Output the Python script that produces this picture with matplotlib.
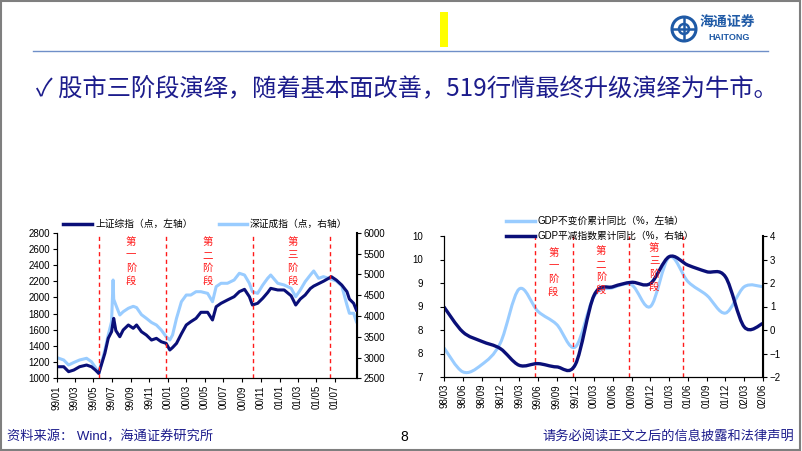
import numpy as np
import pandas as pd
import matplotlib
matplotlib.use('Agg')
import matplotlib.pyplot as plt
import matplotlib.dates as mdates
from matplotlib.path import Path
from matplotlib.patches import PathPatch, Ellipse, Rectangle
from matplotlib.lines import Line2D

plt.rcParams['font.family'] = ['Liberation Sans', 'Noto Sans CJK SC', 'DejaVu Sans']

W, H = 802, 451

idx_dates = ['1999-01-08', '1999-01-24', '1999-02-09', '1999-02-26', '1999-03-17', '1999-04-09',
             '1999-04-25', '1999-05-08', '1999-05-19', '1999-06-08', '1999-06-19', '1999-06-30',
             '1999-07-05', '1999-07-07', '1999-07-14', '1999-07-27', '1999-08-07', '1999-08-24',
             '1999-09-09', '1999-09-20', '1999-10-06', '1999-10-22', '1999-11-08', '1999-11-24',
             '1999-12-10', '1999-12-26', '2000-01-07', '2000-01-16', '2000-01-29', '2000-02-14',
             '2000-03-01', '2000-03-16', '2000-04-02', '2000-04-18', '2000-05-10', '2000-05-26',
             '2000-06-07', '2000-06-23', '2000-07-14', '2000-08-05', '2000-08-22', '2000-09-08',
             '2000-09-24', '2000-10-04', '2000-10-21', '2000-11-07', '2000-11-23', '2000-12-03',
             '2000-12-26', '2001-01-16', '2001-02-08', '2001-02-23', '2001-03-10', '2001-03-26',
             '2001-04-12', '2001-04-23', '2001-05-09', '2001-05-25', '2001-06-11', '2001-06-20',
             '2001-07-06', '2001-07-24', '2001-08-10', '2001-08-18', '2001-09-01', '2001-09-10']
sh_index = [1143, 1143, 1082, 1102, 1143, 1164, 1143, 1102, 1060, 1309, 1494, 1576,
            1700, 1741, 1590, 1514, 1597, 1659, 1618, 1659, 1576, 1535, 1473, 1494,
            1452, 1432, 1350, 1380, 1432, 1550, 1659, 1700, 1741, 1816, 1816, 1721,
            1885, 1927, 1968, 2009, 2071, 2100, 2009, 1906, 1927, 1990, 2060, 2112,
            2092, 2092, 2020, 1906, 1980, 2030, 2110, 2140, 2170, 2200, 2236, 2256,
            2215, 2153, 2071, 1980, 1927, 1844]
sz_index = [2981, 2940, 2820, 2880, 2940, 2981, 2899, 2760, 2620, 3180, 3541, 3861,
            4863, 4400, 4262, 4022, 4100, 4183, 4230, 4200, 4030, 3942, 3842, 3781,
            3661, 3500, 3421, 3541, 3942, 4341, 4502, 4502, 4582, 4582, 4542, 4341,
            4703, 4784, 4784, 4863, 5024, 4983, 4784, 4582, 4542, 4743, 4904, 4983,
            4784, 4743, 4663, 4462, 4623, 4823, 4983, 5080, 4904, 4943, 4904, 4880,
            4840, 4720, 4262, 4063, 4063, 3861]
stage_dates = ['1999-05-19', '1999-12-24', '2000-10-06', '2001-06-14']
stage_names = ['第一阶段', '第二阶段', '第三阶段']

# right chart: quarterly GDP
quarters = ['98/03', '98/06', '98/09', '98/12', '99/03', '99/06', '99/09', '99/12', '00/03',
            '00/06', '00/09', '00/12', '01/03', '01/06', '01/09', '01/12', '02/03', '02/06']
gdp_real = [7.62, 7.11, 7.26, 7.72, 8.87, 8.40, 8.12, 7.64, 8.72,
            8.90, 8.96, 8.50, 9.55, 9.03, 8.74, 8.36, 8.92, 8.92]
gdp_deflator = [0.98, -0.08, -0.48, -0.79, -1.50, -1.43, -1.57, -1.47, 1.48,
                1.84, 2.03, 1.98, 3.12, 2.76, 2.48, 2.26, 0.13, 0.28]
stage_pos = [4.85, 6.85, 9.85, 12.75]
gdp_ticks = [7, 7.5, 8, 8.5, 9, 9.5, 10]
gdp_labels = ['7', '8', '8', '9', '9', '10', '10']

NAVY = '#0a0f78'
LIGHT = '#99ccff'
RED = '#ff1a1a'
TXT = '#1c1c8c'
LOGO = '#1f5aa6'


def fx(x):
    return x / W


def fy(y):
    return 1 - y / H


def smooth_path(x, y):
    # excel-style smoothed line: catmull-rom through the points
    x = np.asarray(x, float)
    y = np.asarray(y, float)
    px = np.r_[x[0], x, x[-1]]
    py = np.r_[y[0], y, y[-1]]
    verts = [(x[0], y[0])]
    codes = [Path.MOVETO]
    for i in range(1, len(x)):
        c1 = (px[i] + (px[i + 1] - px[i - 1]) / 6, py[i] + (py[i + 1] - py[i - 1]) / 6)
        c2 = (px[i + 1] - (px[i + 2] - px[i]) / 6, py[i + 1] - (py[i + 2] - py[i]) / 6)
        verts += [c1, c2, (px[i + 1], py[i + 1])]
        codes += [Path.CURVE4] * 3
    return Path(verts, codes)


def stage_text(x, y0, name):
    for k, ch in enumerate(name):
        fig.text(fx(x), fy(y0 + k * 13), ch, color=RED, fontsize=7.5, fontweight='light',
                 ha='center', va='center', family=['Noto Sans CJK SC'])


fig = plt.figure(figsize=(W / 100, H / 100), dpi=100)

# ---- header ----
fig.add_artist(Rectangle((0.001, 0.002), 0.997, 0.996, transform=fig.transFigure,
                         fill=False, edgecolor='#7f7f7f', lw=1.5))
fig.add_artist(Line2D([fx(33), fx(768)], [fy(51), fy(51)], transform=fig.transFigure,
                      color='#6f8fc8', lw=1))
fig.add_artist(Rectangle((fx(440), fy(47)), 8 / W, 35 / H, transform=fig.transFigure,
                         color='#ffff00', lw=0))
# logo, roughly
fig.add_artist(Ellipse((fx(684), fy(29)), 24 / W, 24 / H, transform=fig.transFigure,
                       fill=False, edgecolor=LOGO, lw=2.2))
fig.add_artist(Ellipse((fx(684), fy(29)), 10 / W, 10 / H, transform=fig.transFigure,
                       fill=False, edgecolor=LOGO, lw=1.8))
fig.add_artist(Line2D([fx(673), fx(695)], [fy(29), fy(29)], transform=fig.transFigure,
                      color=LOGO, lw=1.8))
fig.add_artist(Line2D([fx(684), fx(684)], [fy(18), fy(40)], transform=fig.transFigure,
                      color=LOGO, lw=1.8))
fig.text(fx(700), fy(23), '海通证券', color=LOGO, fontsize=10, fontweight='bold',
         ha='left', va='center', family=['Noto Sans CJK SC'])
fig.text(fx(729), fy(38), 'HAITONG', color=LOGO, fontsize=6.5, fontweight='bold',
         ha='center', va='center')

fig.text(fx(36), fy(89), '✓ 股市三阶段演绎，随着基本面改善，519行情最终升级演绎为牛市。',
         color=TXT, fontsize=17.5, ha='left', va='center',
         family=['Noto Sans CJK SC', 'DejaVu Sans'])

# ---- left chart ----
ax = fig.add_axes([fx(56.7), fy(378.3), 300.3 / W, 145.6 / H])
ax2 = ax.twinx()
d = pd.to_datetime(idx_dates)
ax2.plot(d, sz_index, color=LIGHT, lw=2.2)
ax.plot(d, sh_index, color=NAVY, lw=2.2)
ax.set_zorder(ax2.get_zorder() + 1)
ax.patch.set_visible(False)
for s in stage_dates:
    ax.axvline(pd.Timestamp(s), color=RED, lw=1, ls=(0, (3, 2.5)))
ax.set_xlim(pd.Timestamp('1999-01-04'), pd.Timestamp('2001-09-12'))
ax.set_ylim(1000, 2800)
ax.set_yticks(np.arange(1000, 2801, 200))
ax2.set_ylim(2500, 6000)
ax2.set_yticks(np.arange(2500, 6001, 500))
ax.set_xticks(pd.date_range('1999-01-01', '2001-07-01', freq='2MS'))
ax.xaxis.set_major_formatter(mdates.DateFormatter('%y/%m'))
for a in (ax, ax2):
    a.spines['top'].set_visible(False)
    a.tick_params(labelsize=7, length=3, width=0.8, pad=2)
ax.tick_params(axis='x', rotation=90)
ax2.spines['right'].set_linewidth(1.5)

fig.add_artist(Line2D([fx(63), fx(92)], [fy(224), fy(224)], transform=fig.transFigure,
                      color=NAVY, lw=2.5))
fig.text(fx(96), fy(224), '上证综指（点，左轴）', fontsize=7, ha='left', va='center')
fig.add_artist(Line2D([fx(219), fx(247)], [fy(224), fy(224)], transform=fig.transFigure,
                      color=LIGHT, lw=2.5))
fig.text(fx(250), fy(224), '深证成指（点，右轴）', fontsize=7, ha='left', va='center')

for x, name in zip([131, 207.7, 292.7], stage_names):
    stage_text(x, 241.7, name)

# ---- right chart ----
bx = fig.add_axes([fx(444), fy(377), 319 / W, 141 / H])
bx2 = bx.twinx()
xq = np.arange(len(quarters))
bx.add_patch(PathPatch(smooth_path(xq, gdp_real), fill=False, edgecolor=LIGHT, lw=2.2,
                       capstyle='round'))
bx2.add_patch(PathPatch(smooth_path(xq, gdp_deflator), fill=False, edgecolor=NAVY, lw=2.4,
                        capstyle='round'))
for p in stage_pos:
    bx.axvline(p, color=RED, lw=1, ls=(0, (3, 2.5)))
bx.set_xlim(0, len(quarters) - 1)
bx.set_xticks(xq)
bx.set_xticklabels(quarters, rotation=90)
bx.set_ylim(7, 10)
bx.set_yticks(gdp_ticks)
bx.set_yticklabels(gdp_labels)
bx2.set_ylim(-2, 4)
bx2.set_yticks(range(-2, 5))
for a in (bx, bx2):
    a.spines['top'].set_visible(False)
    a.tick_params(labelsize=7, length=3, width=0.8, pad=2)
bx2.spines['right'].set_linewidth(1.5)
bx.tick_params(axis='y', pad=12)

fig.add_artist(Line2D([fx(506), fx(535)], [fy(221), fy(221)], transform=fig.transFigure,
                      color=LIGHT, lw=2.5))
fig.text(fx(537), fy(221), 'GDP不变价累计同比（%，左轴）', fontsize=7, ha='left', va='center')
fig.add_artist(Line2D([fx(506), fx(535)], [fy(235.5), fy(235.5)], transform=fig.transFigure,
                      color=NAVY, lw=2.5))
fig.text(fx(537), fy(235.5), 'GDP平减指数累计同比（%，右轴）', fontsize=7, ha='left', va='center')

for x, y0, name in zip([553.3, 601, 654], [252.7, 250.7, 248.3], stage_names):
    stage_text(x, y0, name)

# ---- footer ----
fig.text(fx(7), fy(437), '资料来源： Wind，海通证券研究所', color=TXT, fontsize=9.5,
         ha='left', va='center')
fig.text(fx(404), fy(437), '8', color='black', fontsize=10, ha='center', va='center')
fig.text(fx(794), fy(437), '请务必阅读正文之后的信息披露和法律声明', color=TXT, fontsize=9.5,
         ha='right', va='center')

fig.savefig('out.png', dpi=100)
